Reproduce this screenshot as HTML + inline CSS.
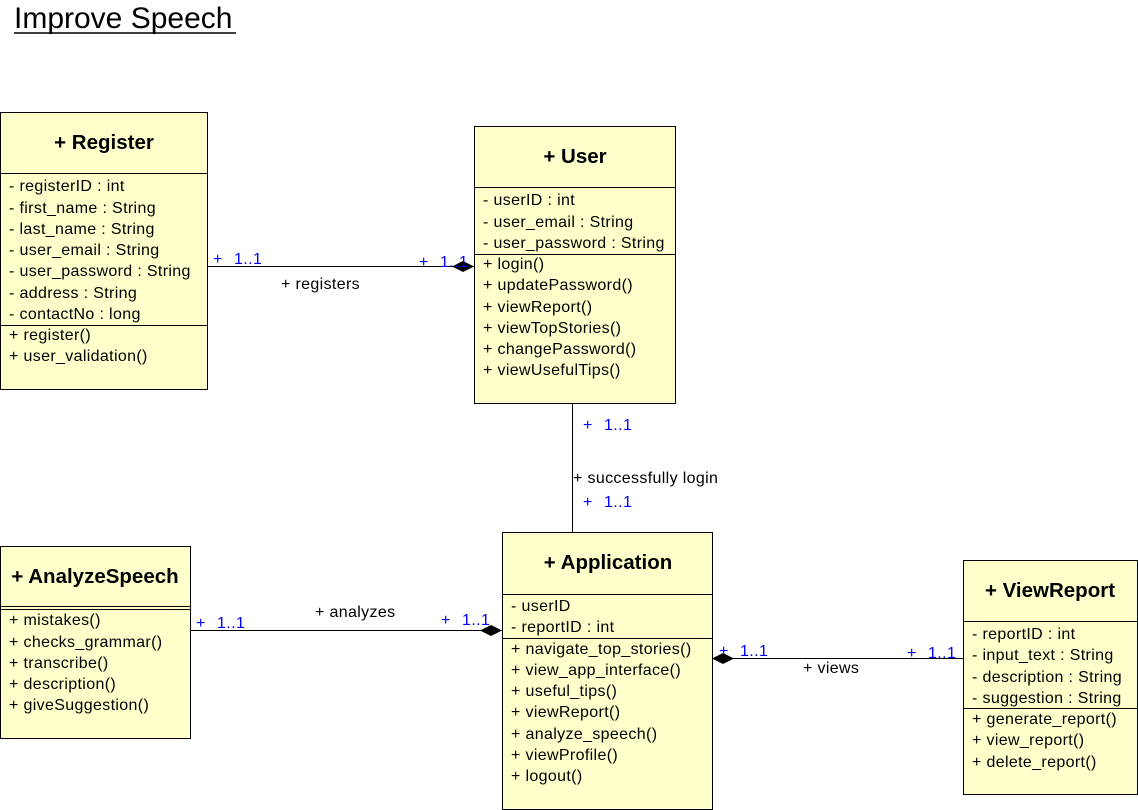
<!DOCTYPE html>
<html><head><meta charset="utf-8"><style>
html,body{margin:0;padding:0;background:#fff;}
svg{display:block;font-family:"Liberation Sans",Arial,sans-serif;}
.t{font-size:16px;fill:#000;letter-spacing:0.35px;}
.h{font-size:20.5px;font-weight:bold;fill:#000;}
.b{font-size:16px;fill:#0000ff;letter-spacing:0.4px;}
</style></head><body>
<svg width="1138" height="810" viewBox="0 0 1138 810" xmlns="http://www.w3.org/2000/svg">
<text x="14" y="28" font-size="30" fill="#000">Improve Speech</text>
<line x1="14" y1="33" x2="236" y2="33" stroke="#000" stroke-width="1.5"/>
<g fill="#ffffcc" stroke="#000" stroke-width="1">
<rect x="0.5" y="112.5" width="207" height="277"/>
<rect x="474.5" y="126.5" width="201" height="277"/>
<rect x="0.5" y="546.5" width="190" height="192"/>
<rect x="502.5" y="532.5" width="210" height="277"/>
<rect x="963.5" y="560.5" width="174" height="234"/>
</g>
<g stroke="#000" stroke-width="1">
<line x1="0" y1="173.5" x2="207" y2="173.5"/><line x1="0" y1="325.5" x2="207" y2="325.5"/>
<line x1="474" y1="187.5" x2="675" y2="187.5"/><line x1="474" y1="254.5" x2="675" y2="254.5"/>
<line x1="0" y1="606.5" x2="190" y2="606.5"/><line x1="0" y1="609.5" x2="190" y2="609.5"/>
<line x1="502" y1="594.5" x2="712" y2="594.5"/><line x1="502" y1="638.5" x2="712" y2="638.5"/>
<line x1="963" y1="621.5" x2="1137" y2="621.5"/><line x1="963" y1="708.5" x2="1137" y2="708.5"/>
<line x1="207" y1="266.5" x2="474" y2="266.5"/>
<line x1="572.5" y1="403" x2="572.5" y2="532"/>
<line x1="190" y1="630.5" x2="502" y2="630.5"/>
<line x1="712" y1="658.5" x2="963" y2="658.5"/>
</g>
<g fill="#000">
<polygon points="452,266.5 463,261 474,266.5 463,272"/>
<polygon points="480,630.5 491,625 502,630.5 491,636"/>
<polygon points="712,658.5 723,653 734,658.5 723,664"/>
</g>
<text class="h" x="104" y="149" text-anchor="middle">+ Register</text>
<text class="h" x="575" y="163" text-anchor="middle">+ User</text>
<text class="h" x="95" y="583" text-anchor="middle">+ AnalyzeSpeech</text>
<text class="h" x="608" y="569" text-anchor="middle">+ Application</text>
<text class="h" x="1050" y="597" text-anchor="middle">+ ViewReport</text>
<g class="t">
<text x="9" y="191">- registerID : int</text>
<text x="9" y="213">- first_name : String</text>
<text x="9" y="234">- last_name : String</text>
<text x="9" y="255">- user_email : String</text>
<text x="9" y="276">- user_password : String</text>
<text x="9" y="298">- address : String</text>
<text x="9" y="319">- contactNo : long</text>
<text x="9" y="340">+ register()</text>
<text x="9" y="361">+ user_validation()</text>
<text x="483" y="205">- userID : int</text>
<text x="483" y="227">- user_email : String</text>
<text x="483" y="248">- user_password : String</text>
<text x="483" y="269">+ login()</text>
<text x="483" y="290">+ updatePassword()</text>
<text x="483" y="312">+ viewReport()</text>
<text x="483" y="333">+ viewTopStories()</text>
<text x="483" y="354">+ changePassword()</text>
<text x="483" y="375">+ viewUsefulTips()</text>
<text x="9" y="625">+ mistakes()</text>
<text x="9" y="647">+ checks_grammar()</text>
<text x="9" y="668">+ transcribe()</text>
<text x="9" y="689">+ description()</text>
<text x="9" y="710">+ giveSuggestion()</text>
<text x="511" y="611">- userID</text>
<text x="511" y="632">- reportID : int</text>
<text x="511" y="654">+ navigate_top_stories()</text>
<text x="511" y="675">+ view_app_interface()</text>
<text x="511" y="696">+ useful_tips()</text>
<text x="511" y="717">+ viewReport()</text>
<text x="511" y="739">+ analyze_speech()</text>
<text x="511" y="760">+ viewProfile()</text>
<text x="511" y="781">+ logout()</text>
<text x="972" y="639">- reportID : int</text>
<text x="972" y="660">- input_text : String</text>
<text x="972" y="682">- description : String</text>
<text x="972" y="703">- suggestion : String</text>
<text x="972" y="724">+ generate_report()</text>
<text x="972" y="745">+ view_report()</text>
<text x="972" y="767">+ delete_report()</text>
<text x="281" y="289">+ registers</text>
<text x="573" y="483">+ successfully login</text>
<text x="315" y="617">+ analyzes</text>
<text x="803" y="673">+ views</text>
</g>
<g class="b">
<text x="213" y="264">+</text><text x="234" y="264">1..1</text>
<text x="419" y="267">+</text><text x="440" y="267">1..1</text>
<text x="583" y="430">+</text><text x="604" y="430">1..1</text>
<text x="583" y="507">+</text><text x="604" y="507">1..1</text>
<text x="196" y="628">+</text><text x="217" y="628">1..1</text>
<text x="441" y="625">+</text><text x="462" y="625">1..1</text>
<text x="719" y="656">+</text><text x="740" y="656">1..1</text>
<text x="907" y="658">+</text><text x="928" y="658">1..1</text>
</g>
</svg>
</body></html>
